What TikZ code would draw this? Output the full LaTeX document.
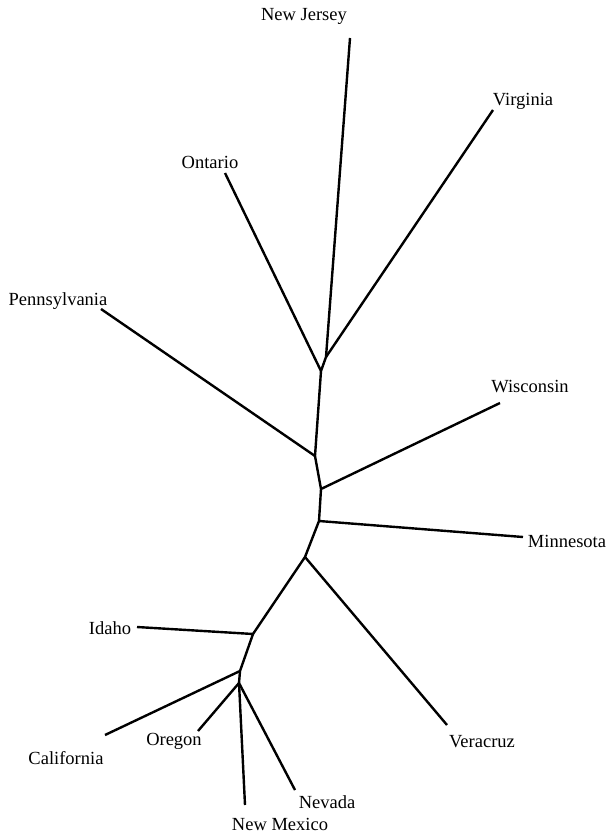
\documentclass[tikz,border=0pt]{standalone}
\usepackage{fontspec}
\setmainfont{Liberation Serif}

\tikzset{
  branch/.style={line width=2.4pt, line join=round},
  taxon/.style={anchor=base, inner sep=0pt, font=\fontsize{18.5}{22}\selectfont}
}

\begin{document}
\begin{tikzpicture}[x=1pt,y=-1pt]
  \useasboundingbox (0,0) rectangle (611,837);

  % internal nodes
  \coordinate (j1) at (326,357);
  \coordinate (j2) at (321,371);
  \coordinate (j3) at (315,456);
  \coordinate (j4) at (321,489);
  \coordinate (j5) at (319,521);
  \coordinate (j6) at (305,557);
  \coordinate (j7) at (253,634);
  \coordinate (j8) at (240,671);
  \coordinate (j9) at (239,683);

  % leaf ends
  \coordinate (nj) at (350,38);
  \coordinate (va) at (493,110);
  \coordinate (on) at (225,173);
  \coordinate (pa) at (101,309);
  \coordinate (wi) at (500,403);
  \coordinate (mn) at (523,537);
  \coordinate (vc) at (447,725);
  \coordinate (id) at (137,627);
  \coordinate (ca) at (105,735);
  \coordinate (or) at (198,731);
  \coordinate (nm) at (245,805);
  \coordinate (nv) at (295,790);

  % labels
  \node[taxon] (lnj) at (304,21) {New Jersey};
  \node[taxon] (lva) at (523,106) {Virginia};
  \node[taxon] (lon) at (210,169) {Ontario};
  \node[taxon] (lpa) at (58,305) {Pennsylvania};
  \node[taxon] (lwi) at (530,392) {Wisconsin};
  \node[taxon] (lmn) at (567,547) {Minnesota};
  \node[taxon] (lvc) at (482,747) {Veracruz};
  \node[taxon] (lid) at (110,634) {Idaho};
  \node[taxon] (lca) at (66,764) {California};
  \node[taxon] (lor) at (174,745) {Oregon};
  \node[taxon] (lnv) at (327,808) {Nevada};
  \node[taxon] (lnm) at (280,830) {New Mexico};

  \draw[branch] (nj) -- (j1) -- (j2) -- (j3) -- (j4) -- (j5) -- (j6) -- (j7) -- (j8) -- (j9) -- (nm);
  \path[branch]
    (va) edge (j1)
    (on) edge (j2)
    (pa) edge (j3)
    (wi) edge (j4)
    (mn) edge (j5)
    (vc) edge (j6)
    (id) edge (j7)
    (ca) edge (j8)
    (or) edge (j9)
    (nv) edge (j9);
\end{tikzpicture}
\end{document}
